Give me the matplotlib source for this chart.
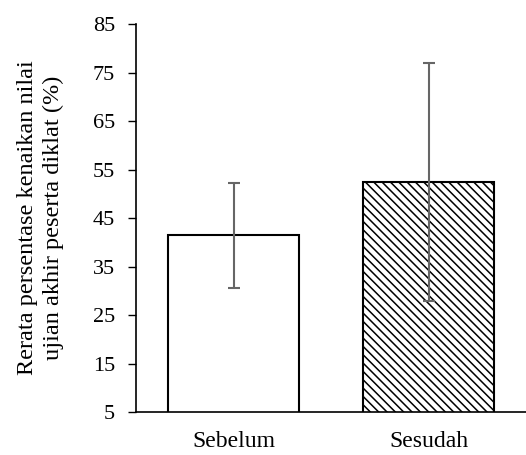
import matplotlib
matplotlib.use("Agg")
import matplotlib.pyplot as plt

categories = ["Sebelum", "Sesudah"]
means = [41.4, 52.4]
errors = [10.8, 24.5]
yticks = [5, 15, 25, 35, 45, 55, 65, 75, 85]

plt.rcParams['font.family'] = ['Liberation Serif', 'DejaVu Serif']
plt.rcParams['hatch.linewidth'] = 1.1
plt.rcParams['hatch.color'] = 'black'

fig = plt.figure(figsize=(5.26, 4.55), dpi=100)
ax = fig.add_axes([0.2586, 0.0945, 0.7414, 0.8527])

x = list(range(len(categories)))
ax.bar(x, means, width=0.667, bottom=0, color='white', edgecolor='black',
       linewidth=1.5, hatch=[None, '\\\\\\\\'], zorder=2)
ax.errorbar(x, means, yerr=errors, fmt='none', ecolor='#666666',
            elinewidth=1.5, capsize=4.3, capthick=1.5, zorder=3)

ax.set_xlim(-0.5, 1.5)
ax.set_ylim(5, 85)
ax.set_yticks(yticks)
ax.set_xticks(x)
ax.set_xticklabels(categories, fontsize=17)
ax.tick_params(axis='y', labelsize=16, direction='out', length=6, width=1, pad=9)
ax.tick_params(axis='x', length=0, pad=14)
for s in ['top', 'right']:
    ax.spines[s].set_visible(False)
ax.spines['left'].set_linewidth(1.2)
ax.spines['bottom'].set_linewidth(1.2)
ax.set_ylabel("Rerata persentase kenaikan nilai\nujian akhir peserta diklat (%)",
              fontsize=17.5, labelpad=21, linespacing=1.3)

fig.savefig("out.png", dpi=100)
